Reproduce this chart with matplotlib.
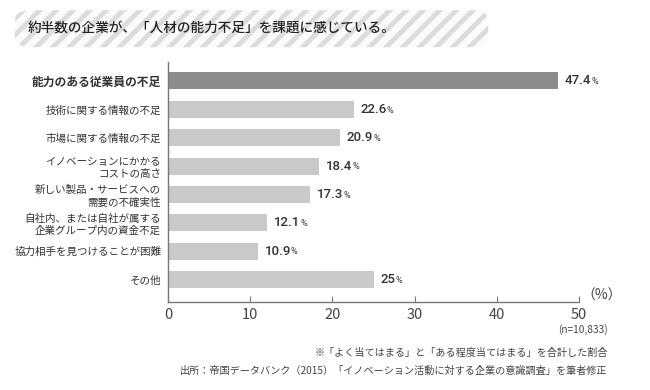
import matplotlib
matplotlib.use("Agg")
import matplotlib.pyplot as plt
from matplotlib.patches import FancyBboxPatch

plt.rcParams["font.family"] = ["Noto Sans CJK JP", "DejaVu Sans"]
plt.rcParams["hatch.linewidth"] = 3.5

# data
categories = [
    "能力のある従業員の不足",
    "技術に関する情報の不足",
    "市場に関する情報の不足",
    "イノベーションにかかる\nコストの高さ",
    "新しい製品・サービスへの\n需要の不確実性",
    "自社内、または自社が属する\n企業グループ内の資金不足",
    "協力相手を見つけることが困難",
    "その他",
]
values = [47.4, 22.6, 20.9, 18.4, 17.3, 12.1, 10.9, 25]
value_labels = ["47.4", "22.6", "20.9", "18.4", "17.3", "12.1", "10.9", "25"]
x_ticks = [0, 10, 20, 30, 40, 50]

title = "約半数の企業が、「人材の能力不足」を課題に感じている。"
note1 = "※「よく当てはまる」と「ある程度当てはまる」を合計した割合"
note2 = "出所：帝国データバンク（2015）「イノベーション活動に対する企業の意識調査」を筆者修正"

text_color = "#333333"
axis_color = "#777777"

fig = plt.figure(figsize=(6.5, 3.9), dpi=100, facecolor="white")

# hatched title band
band = FancyBboxPatch(
    (0.023, 0.879), 0.728, 0.095,
    boxstyle="round,pad=0,rounding_size=0.025",
    transform=fig.transFigure, facecolor="#fbfbfb",
    edgecolor="#dcdcdc", linewidth=0, hatch="//",
)
fig.patches.append(band)
fig.text(0.043, 0.927, title, fontsize=9.8, color="#222222",
         va="center", ha="left", fontweight="medium")

ax = fig.add_axes([0.2585, 0.2256, 0.6323, 0.6154])
positions = list(range(len(categories)))
colors = ["#8c8c8c"] + ["#c9c9c9"] * (len(categories) - 1)
ax.barh(positions, values, height=0.6, color=colors)

ax.set_xlim(0, 50)
ax.set_ylim(7.8, -0.67)
ax.set_xticks(x_ticks)
ax.set_xticklabels([str(t) for t in x_ticks])
ax.tick_params(axis="x", direction="in", length=4, width=0.8,
               colors=axis_color, labelcolor="#444444", labelsize=10.5, pad=4)
ax.set_yticks(positions)
ax.set_yticklabels(categories)
ax.tick_params(axis="y", length=0, pad=5)
for i, lab in enumerate(ax.get_yticklabels()):
    lab.set_color(text_color)
    lab.set_linespacing(1.25)
    if i == 0:
        lab.set_fontsize(8.5)
        lab.set_fontweight("bold")
    else:
        lab.set_fontsize(7.6)
for side in ("top", "right"):
    ax.spines[side].set_visible(False)
for side in ("left", "bottom"):
    ax.spines[side].set_color(axis_color)
    ax.spines[side].set_linewidth(1.0)

for pos, val, lab in zip(positions, values, value_labels):
    t = ax.annotate(lab, xy=(val, pos), xytext=(5, 0), textcoords="offset points",
                    va="center", ha="left", fontsize=9.5, color=text_color,
                    fontweight="medium", family=["Roboto", "DejaVu Sans"])
    ax.annotate("%", xy=(1, 0.1), xycoords=t, va="bottom", ha="left",
                fontsize=6.5, color=text_color, family=["Roboto", "DejaVu Sans"])

fig.text(0.895, 0.225, "（%）", fontsize=10, color="#444444",
         ha="left", va="bottom")
fig.text(0.935, 0.155, "(n=10,833)", fontsize=7.3, color="#444444",
         ha="right", va="center")
fig.text(0.935, 0.095, note1, fontsize=7.3, color="#444444",
         ha="right", va="center")
fig.text(0.935, 0.048, note2, fontsize=7.3, color="#444444",
         ha="right", va="center")

fig.savefig("out.png", dpi=100, facecolor="white")
